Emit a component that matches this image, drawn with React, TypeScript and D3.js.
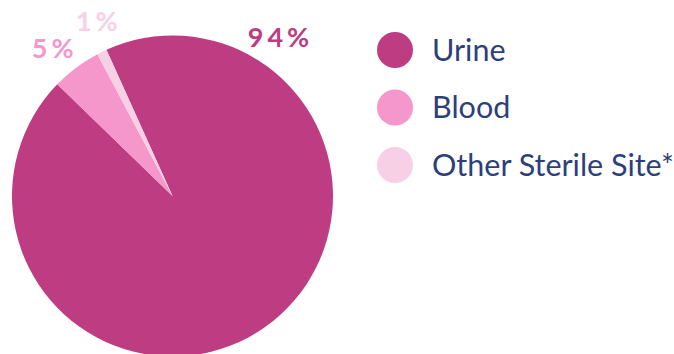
import React from "react";
import * as d3 from "d3";

const categories = ["Urine", "Blood", "Other Sterile Site*"];
const values = [94, 5, 1];
const labels = ["94%", "5%", "1%"];
const colors = ["#BD3C82", "#F597CA", "#F8D0E5"];

const W = 674;
const H = 354;
const CX = 172.5;
const CY = 196;
const R = 160.5;
const START = (-24.3 * Math.PI) / 180;
const LABEL_R = 190.5;
// label placement angle (deg, clockwise from top)
const labelAngles = [33.8, -39, -23.4];

export default function App() {
  const pie = d3
    .pie<number>()
    .sort(null)
    .value((d) => d)
    .startAngle(START)
    .endAngle(START + 2 * Math.PI);
  const arcs = pie(values);
  const arc = d3.arc<d3.PieArcDatum<number>>().innerRadius(0).outerRadius(R);

  const legendY = d3.scalePoint<string>().domain(categories).range([50, 165]);

  return (
    <svg
      width={W}
      height={H}
      style={{ position: "absolute", left: 0, top: 0, display: "block" }}
      fontFamily="Lato, 'Open Sans', sans-serif"
    >
      <g transform={`translate(${CX},${CY})`}>
        {arcs.map((a, i) => (
          <path key={i} d={arc(a) || ""} fill={colors[i]} />
        ))}
        {arcs.map((a, i) => {
          const ang = (labelAngles[i] * Math.PI) / 180;
          const x = Math.sin(ang) * LABEL_R;
          const y = -Math.cos(ang) * LABEL_R;
          return (
            <text
              key={"l" + i}
              x={x + 2}
              y={y}
              dy="0.36em"
              textAnchor="middle"
              fontSize={27}
              fontWeight={700}
              letterSpacing={4}
              fill={colors[i]}
            >
              {labels[i]}
            </text>
          );
        })}
      </g>
      {categories.map((c, i) => (
        <g key={c} transform={`translate(0,${legendY(c)})`}>
          <circle cx={395} cy={0} r={18} fill={colors[i]} />
          <text x={432} y={0} dy="0.35em" fontSize={30.5} fill="#2D3F7B">
            {c}
          </text>
        </g>
      ))}
    </svg>
  );
}
